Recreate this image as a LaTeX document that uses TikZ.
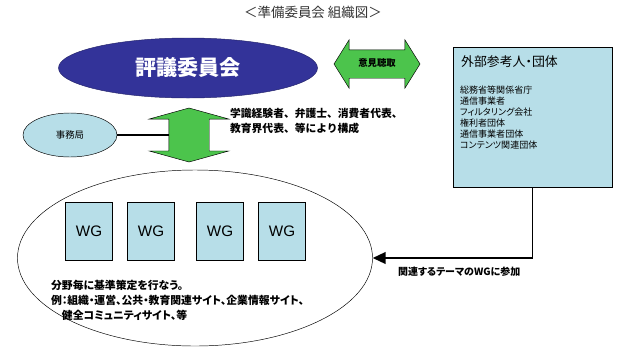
\documentclass[tikz,border=0pt]{standalone}
\usepackage{fontspec}
\setmainfont[RawFeature=+palt]{Noto Sans CJK JP}
\newfontfamily\fullwidthfont{Noto Sans CJK JP}
\newfontfamily\arialfont{Liberation Sans}
\usetikzlibrary{shapes.geometric,shapes.arrows,arrows.meta}
\definecolor{navy}{RGB}{51,51,153}
\definecolor{wggreen}{RGB}{76,196,76}
\definecolor{paleblue}{RGB}{183,222,232}
\tikzset{
  wgbox/.style={draw,fill=paleblue,minimum width=1.41cm,minimum height=1.74cm,
    font=\arialfont\fontsize{13}{15}\selectfont},
  greenarrow/.style={double arrow,draw,fill=wggreen},
  smalltext/.style 2 args={font=\bfseries\fontsize{#1}{#2}\selectfont}
}
\begin{document}
\begin{tikzpicture}[x=0.03cm,y=-0.03cm]
\useasboundingbox (0,0) rectangle (626,361);

% title
    \node[font=\fontsize{11.5}{14}\selectfont,text=black!80] (title) at (313,12) {＜準備委員会 組織図＞};

% council
    \node[ellipse,draw=navy!70!black,fill=navy,text=white,minimum width=7.77cm,minimum height=1.8cm,
      font=\bfseries\fontsize{18}{20}\selectfont] (council) at (188,68) {評議委員会};

% hearing arrow
    \node[greenarrow,minimum height=2.58cm,minimum width=1.44cm,inner xsep=2pt,inner ysep=0.29cm,
      text height=0.2cm,text depth=0.06cm,double arrow head extend=0.3cm,double arrow tip angle=116,
      font=\bfseries\fontsize{8}{10}\selectfont] (hearing) at (377,64) {意見聴取};

% external members
    \node[draw,fill=paleblue,minimum width=4.77cm,minimum height=4.2cm] (ext) at (532.5,117) {};
    \node[anchor=west,font=\fontsize{11}{13}\selectfont] (exttitle) at (457,62) {外部参考人・団体};
    \node[anchor=north west,align=left,font=\fontsize{7.7}{9.4}\selectfont] (extlist) at (456,82)
      {総務省等関係省庁\\通信事業者\\フィルタリング会社\\権利者団体\\通信事業者団体\\コンテンツ関連団体};

% office
    \node[ellipse,draw,fill=paleblue,minimum width=2.82cm,minimum height=1.32cm,
      font=\fontsize{8}{10}\selectfont] (office) at (70,135) {事務局};

% vertical arrow
    \node[greenarrow,rotate=90,minimum height=1.62cm,minimum width=2.37cm,inner xsep=0pt,inner ysep=0.6cm,
      text height=0pt,text depth=0pt,double arrow head extend=0.585cm,double arrow tip angle=149] (link) at (189,135) {};
    \draw[line width=1.2pt] (office.east) -- (office.east -| link.north);

    \node[anchor=west,align=left,smalltext={9.2}{12.8}] (members) at (226,120.5)
      {\fullwidthfont 学識経験者、弁護士、消費者代表、\\\fullwidthfont 教育界代表、等により構成};

% working groups
    \node[ellipse,draw,minimum width=10.65cm,minimum height=5.28cm] (wgarea) at (195,258) {};
    \foreach \x [count=\i] in {89,151,220,282}
      \node[wgbox] (wg\i) at (\x,231) {WG};
    \node[anchor=west,align=left,smalltext={9.25}{12.8}] (wgnote) at (47,300)
      {分野毎に基準策定を行なう。\\例：組織・運営、公共・教育関連サイト、企業情報サイト、\\　健全コミュニティサイト、等};

% participation
    \draw[line width=1.5pt,-{Triangle[length=11pt,width=10pt]}] (ext.south) |- (wgarea.east);
    \node[anchor=west,smalltext={8.5}{10}] (joinlabel) at (394,272) {関連するテーマのWGに参加};
\end{tikzpicture}
\end{document}
